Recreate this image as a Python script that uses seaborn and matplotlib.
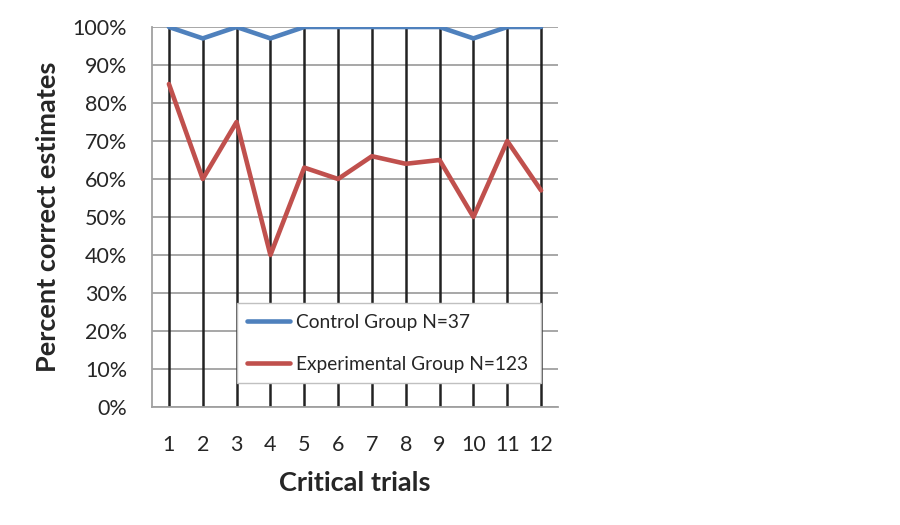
import numpy as np
import pandas as pd
import matplotlib
matplotlib.use('Agg')
import matplotlib.pyplot as plt
import seaborn as sns
from matplotlib.ticker import PercentFormatter

trials = [1, 2, 3, 4, 5, 6, 7, 8, 9, 10, 11, 12]
control = [100, 97, 100, 97, 100, 100, 100, 100, 100, 97, 100, 100]
experimental = [85, 60, 75, 40, 63, 60, 66, 64, 65, 50, 70, 57]
labels = ['Control Group N=37', 'Experimental Group N=123']

sns.set_style('white')
plt.rcParams['font.family'] = ['Lato', 'DejaVu Sans']

df = pd.DataFrame({'trial': trials * 2,
                   'pct': control + experimental,
                   'group': [labels[0]] * 12 + [labels[1]] * 12})

fig = plt.figure(figsize=(9, 5.25), dpi=100)
ax = fig.add_axes([152 / 900, 1 - 407 / 525, 406 / 900, 380 / 525])

# horizontal gridlines
ax.set_axisbelow(True)
ax.yaxis.grid(True, color='#a0a0a0', linewidth=1.3)

# drop lines from the highest series down to the axis
top = np.maximum(control, experimental)
ax.vlines(trials, 0, top, color='#222222', linewidth=1.8, zorder=2)

sns.lineplot(data=df, x='trial', y='pct', hue='group',
             palette=['#4F81BD', '#C0504D'], linewidth=3.3, ax=ax, zorder=3)

ax.set_xlim(0.5, 12.5)
ax.set_ylim(0, 100)
ax.set_xticks(trials)
ax.set_yticks(range(0, 101, 10))
ax.yaxis.set_major_formatter(PercentFormatter(decimals=0))
ax.tick_params(axis='y', length=8, color='#a0a0a0', width=1.3, labelsize=15.5, pad=10)
ax.tick_params(axis='x', length=0, labelsize=15.5, pad=20)

for s in ['top', 'right']:
    ax.spines[s].set_visible(False)
for s in ['left', 'bottom']:
    ax.spines[s].set_color('#a0a0a0')
    ax.spines[s].set_linewidth(1.3)

ax.set_xlabel('Critical trials', fontsize=19.5, fontweight='bold', labelpad=12)
ax.set_ylabel('Percent correct estimates', fontsize=19.5, fontweight='bold', labelpad=9)

leg = ax.legend(loc='lower left', bbox_to_anchor=(0.209, 0.063, 0.749, 0.224),
                mode='expand', fontsize=13.8, frameon=True, fancybox=False,
                handlelength=2.2, handletextpad=0.35, labelspacing=1.3,
                borderpad=0.55, borderaxespad=0)
leg.get_frame().set_edgecolor('#c0c0c0')
leg.get_frame().set_facecolor('white')
leg.get_frame().set_alpha(1)
leg.set_zorder(5)

fig.savefig('out.png', dpi=100)
